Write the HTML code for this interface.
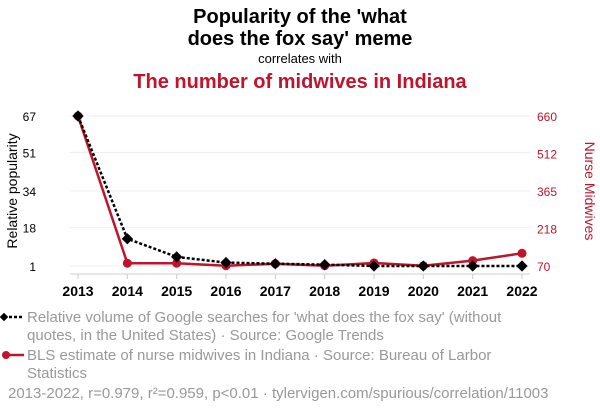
<!DOCTYPE html>
<html><head><meta charset="utf-8"><style>
body{margin:0;width:600px;height:414px;background:#fff;font-family:"Liberation Sans",sans-serif;overflow:hidden}
</style></head><body>
<svg width="600" height="414" xmlns="http://www.w3.org/2000/svg" font-family="Liberation Sans, sans-serif">
<text x="300" y="23" text-anchor="middle" font-size="20" font-weight="bold">Popularity of the 'what</text>
<text x="300" y="45" text-anchor="middle" font-size="20" font-weight="bold">does the fox say' meme</text>
<text x="300" y="63" text-anchor="middle" font-size="13">correlates with</text>
<text x="300" y="88" text-anchor="middle" font-size="20" font-weight="bold" fill="#c0142c">The number of midwives in Indiana</text>
<g id="grid"></g>
<line x1="70" y1="274" x2="530" y2="274" stroke="#ccc"/>
<g id="ticks"></g>
<text transform="translate(17,191) rotate(-90)" text-anchor="middle" font-size="14">Relative popularity</text>
<text transform="translate(585,191) rotate(90)" text-anchor="middle" font-size="14" fill="#c0142c">Nurse Midwives</text>
<g id="series"></g>
<g>
<line x1="4" y1="317" x2="24" y2="317" stroke="#000" stroke-width="2.5" stroke-dasharray="3,2"/>
<rect x="1" y="314" width="6" height="6" transform="rotate(45 4 317)"/>
<text x="27" y="322" font-size="15" fill="#999">Relative volume of Google searches for 'what does the fox say' (without</text>
<text x="27" y="340" font-size="15" fill="#999">quotes, in the United States) · Source: Google Trends</text>
</g>
<g>
<line x1="4" y1="355" x2="24" y2="355" stroke="#c0142c" stroke-width="2.5"/>
<circle cx="6" cy="355" r="4" fill="#c0142c"/>
<text x="27" y="360" font-size="15" fill="#999">BLS estimate of nurse midwives in Indiana · Source: Bureau of Larbor</text>
<text x="27" y="378" font-size="15" fill="#999">Statistics</text>
</g>
<text x="8" y="398" font-size="15" fill="#999">2013-2022, r=0.979, r²=0.959, p&lt;0.01 · tylervigen.com/spurious/correlation/11003</text>
</svg>
<script>
const years=[2013,2014,2015,2016,2017,2018,2019,2020,2021,2022];
const googleVals=[67,13,5,2.5,2,1.6,1,1,1,1];
const midwifeVals=[660,81,81,71,79,71,82,71,91,120];
const leftTicks=[1,18,34,51,67];
const rightTicks=[70,218,365,512,660];
const NS="http://www.w3.org/2000/svg";
const xS=i=>78+i*(522-78)/(years.length-1);
const yL=v=>266-(v-1)*150/66;
const yR=v=>266-(v-70)*150/590;
function mk(t,a,p){const e=document.createElementNS(NS,t);for(const k in a)e.setAttribute(k,a[k]);p.appendChild(e);return e;}
const grid=document.getElementById('grid'),ticks=document.getElementById('ticks'),ser=document.getElementById('series');
leftTicks.forEach((v,i)=>{const l=mk('line',{x1:70,x2:530,y1:yL(v),y2:yL(v),stroke:'#eee'},grid);


const t=mk('text',{x:36,y:yL(v)+5,'text-anchor':'end','font-size':12},ticks);t.textContent=v;


const r=mk('text',{x:537,y:yR(rightTicks[i])+5,'font-size':12,fill:'#c0142c'},ticks);r.textContent=rightTicks[i];

});
years.forEach((y,i)=>{const t=mk('text',{x:xS(i),y:296,'text-anchor':'middle','font-size':14,'font-weight':'bold'},ticks);t.textContent=y;


mk('line',{x1:xS(i),x2:xS(i),y1:274,y2:279,stroke:'#ccc'},ticks);});
const rp=mk('polyline',{points:midwifeVals.map((v,i)=>xS(i)+','+yR(v)).join(' '),fill:'none',stroke:'#c0142c','stroke-width':2.5},ser);


midwifeVals.forEach((v,i)=>{const c=mk('circle',{cx:xS(i),cy:yR(v),r:4.5,fill:'#c0142c'},ser);

});
const bp=mk('polyline',{points:googleVals.map((v,i)=>xS(i)+','+yL(v)).join(' '),fill:'none',stroke:'#000','stroke-width':2.5,'stroke-dasharray':'3,2'},ser);


googleVals.forEach((v,i)=>{const x=xS(i),y=yL(v);const r=mk('rect',{x:x-4,y:y-4,width:8,height:8,transform:`rotate(45 ${x} ${y})`},ser);

});
</script>
</body></html>
